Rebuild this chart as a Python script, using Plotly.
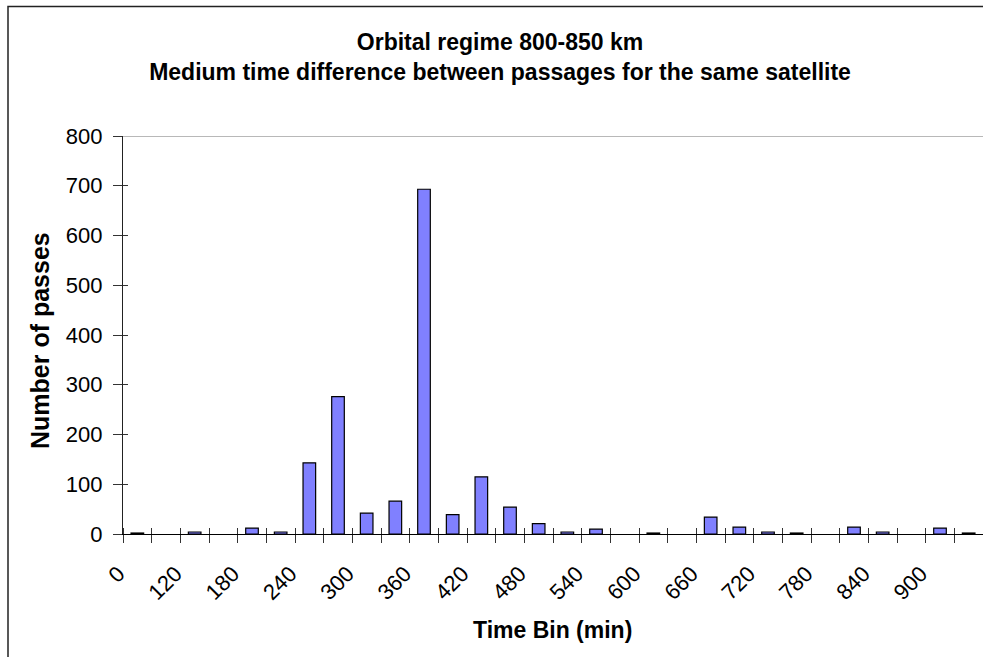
import plotly.graph_objects as go

# Time bins (min) and number of passes per bin
bins = ["0", "90", "120", "150", "180", "210", "240", "270", "300", "330",
        "360", "390", "420", "450", "480", "510", "540", "570", "600", "630",
        "660", "690", "720", "750", "780", "810", "840", "870", "900", "930"]
passes = [2, 0, 4, 0, 12, 4, 143, 276, 42, 66,
          693, 39, 115, 54, 21, 4, 10, 0, 2, 0,
          34, 14, 4, 2, 0, 14, 4, 0, 12, 2]

# Only every other bin carries a label on the axis
labelled = bins[::2]

FONT = "Arial, Liberation Sans, sans-serif"
BAR_FILL = "#8080FF"

positions = list(range(len(bins)))
label_pos = [positions[bins.index(b)] for b in labelled]
# empty bins get no outline so nothing is drawn for them
outline = [1.2 if v > 0 else 0 for v in passes]

fig = go.Figure()
fig.add_trace(go.Bar(
    x=positions, y=passes,
    width=0.44,
    marker=dict(color=BAR_FILL, line=dict(color="black", width=outline)),
    hoverinfo="skip",
    showlegend=False,
))

W, H = 983, 657
ML, MR, MT, MB = 123, 0, 136, 123
pw, ph = W - ML - MR, H - MT - MB

def px_x(px):
    return (px - ML) / pw

def px_y(py):
    return (H - MB - py) / ph

x_range = [-0.5, len(bins) - 0.5]

fig.update_layout(
    width=W, height=H,
    margin=dict(l=ML, r=MR, t=MT, b=MB),
    paper_bgcolor="white", plot_bgcolor="white",
    font=dict(family=FONT, color="black", size=22),
    bargap=0.56,
    title=dict(
        text="<b>Orbital regime 800-850 km<br>Medium time difference between passages for the same satellite</b>",
        x=500 / W, xanchor="center", xref="container",
        y=1 - 50 / H, yanchor="middle", yref="container",
        font=dict(family=FONT, size=23, color="black"),
    ),
    xaxis=dict(
        range=x_range, showgrid=False, zeroline=False,
        showline=True, linecolor="black", linewidth=1.3,
        tickmode="array", tickvals=label_pos, ticktext=labelled,
        tickangle=-45, ticks="",
        ticklabelshift=-19, ticklabelstandoff=17,
        tickfont=dict(family=FONT, size=22, color="black"),
        minor=dict(tickmode="linear", tick0=-0.5, dtick=1,
                   ticks="outside", ticklen=8, tickcolor="#333", tickwidth=1.2),
    ),
    xaxis2=dict(
        range=x_range, overlaying="x", anchor="y", side="bottom",
        showgrid=False, zeroline=False, showline=False, showticklabels=False,
        ticks="",
        minor=dict(tickmode="linear", tick0=-0.5, dtick=1,
                   ticks="inside", ticklen=6, tickcolor="#333", tickwidth=1.2),
    ),
    yaxis=dict(
        range=[0, 800], dtick=100, showgrid=False, zeroline=False,
        showline=True, linecolor="#222", linewidth=1.3,
        ticks="outside", ticklen=9, tickcolor="#333", tickwidth=1.2,
        ticklabelstandoff=6,
        tickfont=dict(family=FONT, size=22, color="black"),
    ),
    yaxis2=dict(
        range=[0, 800], dtick=100, overlaying="y", anchor="x", side="left",
        showgrid=False, zeroline=False, showline=False, showticklabels=False,
        ticks="inside", ticklen=5, tickcolor="#333", tickwidth=1.2,
    ),
)

# Axis titles
fig.add_annotation(text="<b>Time Bin (min)</b>", xref="paper", yref="paper",
                   x=px_x(552), y=px_y(630), xanchor="center", yanchor="middle",
                   showarrow=False, font=dict(family=FONT, size=23, color="black"))
fig.add_annotation(text="<b>Number of passes</b>", xref="paper", yref="paper",
                   x=px_x(40), y=px_y(341), xanchor="center", yanchor="middle",
                   textangle=-90, showarrow=False,
                   font=dict(family=FONT, size=25, color="black"))

# Plot-area top edge at the 800 gridline
fig.add_shape(type="line", xref="x domain", yref="y", x0=0, x1=1, y0=800, y1=800,
              line=dict(color="#A0A0A0", width=1.3), layer="below")

# Chart frame
fig.add_shape(type="rect", xref="paper", yref="paper",
              x0=px_x(8), x1=px_x(W + 20), y0=px_y(H + 20), y1=px_y(6.5),
              line=dict(color="#222", width=1.5), fillcolor="rgba(0,0,0,0)",
              layer="above")

# The overlay axes need a (hidden) trace to be drawn
fig.add_trace(go.Scatter(x=[None], y=[None], xaxis="x2", yaxis="y2",
                         showlegend=False, hoverinfo="skip"))

fig.write_html("out.html")
